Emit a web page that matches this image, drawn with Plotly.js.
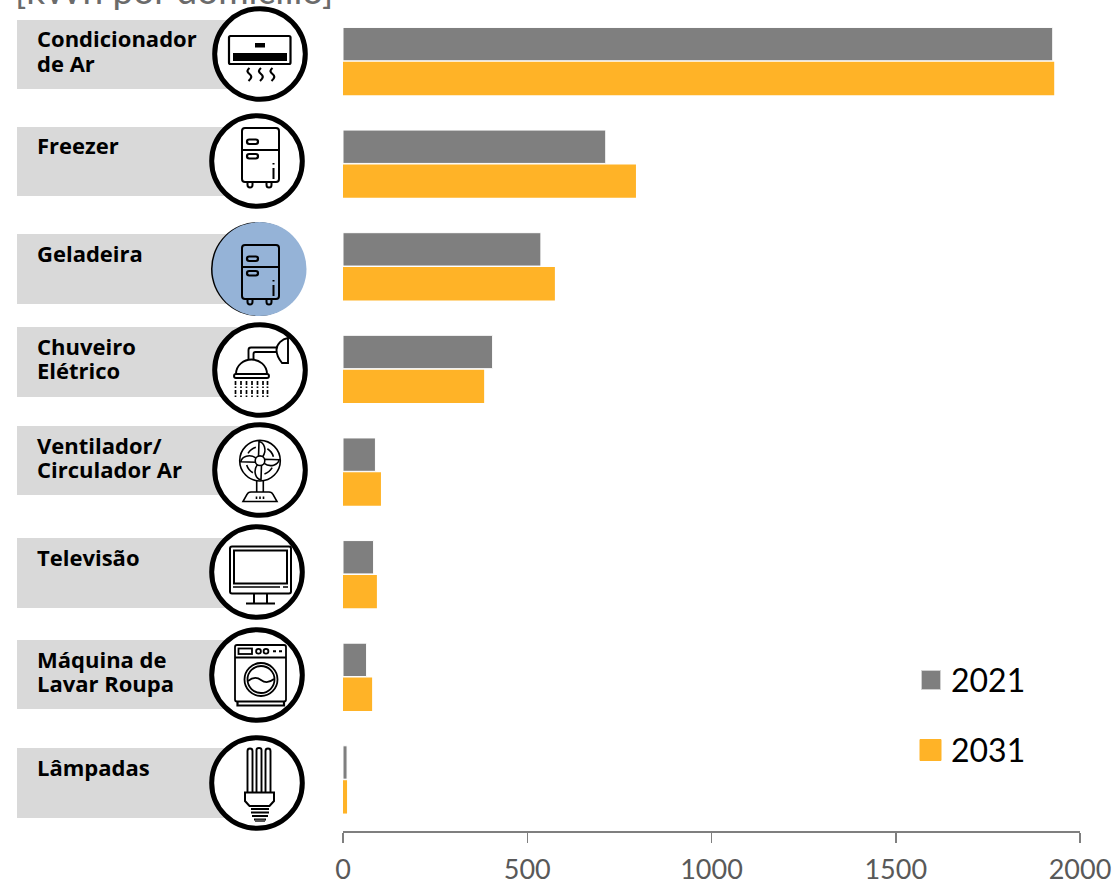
<!DOCTYPE html>
<html>
<head>
<meta charset="utf-8">
<script src="https://cdn.plot.ly/plotly-3.0.1.min.js"></script>
<style>html,body{margin:0;padding:0;background:#fff;overflow:hidden}</style>
</head>
<body>
<div id="chart" style="width:1116px;height:884px"></div>
<script>
// Consumo por equipamento
const categories = ["Condicionador de Ar", "Freezer", "Geladeira", "Chuveiro Elétrico",
  "Ventilador/ Circulador Ar", "Televisão", "Máquina de Lavar Roupa", "Lâmpadas"];
const labelLines = [["Condicionador", "de Ar"], ["Freezer"], ["Geladeira"], ["Chuveiro", "Elétrico"],
  ["Ventilador/", "Circulador Ar"], ["Televisão"], ["Máquina de", "Lavar Roupa"], ["Lâmpadas"]];
const values2021 = [1926, 713, 537, 406, 88, 83, 64, 11];
const values2031 = [1930, 795, 575, 383, 103, 92, 79, 11];
const tickValues = [0, 500, 1000, 1500, 2000];
const seriesNames = ["2021", "2031"];
const unitTitle = "[kWh por domicílio]";

const GREY = "#7F7F7F", ORANGE = "#FFB327", BOX = "#D9D9D9", BLUE = "#95B3D7";

// Plot frame in page pixels, used to place the side panel
const L = 343, R = 1080, T = 10, B = 831;
const px = x => (x - L) / (R - L);
const py = y => (B - y) / (B - T);

// Grey label panels: top, bottom, and the vertical centre of each text line
const panels = [[20, 89, [38, 62.500]], [127, 196, [145]], [234, 304, [253]], [327, 397, [346, 370]],
  [426, 495, [445, 469]], [538, 608, [557]], [640, 709, [659, 683]], [748, 818, [767]]];
// Icon badge centres
const badges = [[260, 54], [257, 161], [259, 269], [260, 370], [260, 470], [257, 572], [257, 675], [257, 783]];

// Icon line drawings on a 96x96 canvas centred on the badge
const fridge = (dx, dy) => `<g transform="translate(${dx} ${dy})" fill="none" stroke="#000" stroke-width="2">
  <rect x="33" y="15" width="37" height="54" rx="3"/><path d="M33 37H70"/>
  <rect x="38" y="26.500" width="11" height="4.500" rx="2.200" stroke-width="2.200"/><rect x="38" y="41" width="11" height="4.500" rx="2.200" stroke-width="2.200"/>
  <path d="M64.500 55V66M64.500 50V51.500"/><path d="M38.500 69v3a2.500 2.500 0 0 0 5 0v-3M57.500 69v3a2.500 2.500 0 0 0 5 0v-3"/></g>`;

const fanBlade = `<path d="M46.500 35L47 19.500C52 20.500 55.500 28 50.500 35Z" fill="#fff"/>`;

const iconArt = [
  // ar condicionado
  `<g fill="none" stroke="#000" stroke-width="2.200"><rect x="17" y="30" width="61.500" height="28" rx="1.500"/>
   <path d="M37.500 62c-3 2.500-2.500 4 0 6s2.500 4-1 7M49 62c-3 2.500-2.500 4 0 6s2.500 4-1 7M60.500 62c-3 2.500-2.500 4 0 6s2.500 4-1 7"/></g>
   <rect x="21" y="47" width="54" height="8" fill="#000"/><rect x="43" y="37" width="10" height="4.500" fill="#000"/>`,
  fridge(0, 0),
  fridge(-2, 9),
  // chuveiro
  `<g fill="none" stroke="#000" stroke-width="1.900"><path d="M76 16V41H70C66 36 64.500 32 64.500 28C64.500 22 70 17 76 16Z"/>
   <path d="M65 25.500H39Q36.500 25.500 36.500 28V38M65 30H43.500Q41.500 30 41.500 32V38"/>
   <path d="M24 52C24 43 32 37.500 39.500 37.500C47 37.500 55 43 55 52"/><rect x="22" y="52" width="35" height="4" rx="2"/>
   <path d="M23.500 59V77M29 59V77M34.500 59V77M40 59V77M45.500 59V77M51 59V77M55.500 59V75" stroke-width="1.700" stroke-dasharray="4 1.500 1.500 2"/></g>`,
  // ventilador
  `<g fill="none" stroke="#000" stroke-width="1.600"><circle cx="48" cy="38.700" r="20.300"/>
   <circle cx="48" cy="38.700" r="14" stroke-dasharray="10 12" stroke-dashoffset="-7.300"/>
   ${[0, 90, 180, 270].map(a => `<g transform="rotate(${a} 48 38.700)">${fanBlade}</g>`).join("")}
   <circle cx="48" cy="38.700" r="4.800" fill="#fff"/>
   <path d="M44.700 59V70M51.300 59V70M31 79.500H65L61 72.500Q60 70 57 70H39Q36 70 35 72.500Z"/><path d="M44.500 74.500V77M48 74.500V77M51.500 74.500V77"/></g>`,
  // televisão
  `<g fill="none" stroke="#000" stroke-width="2"><rect x="21" y="22.500" width="61" height="47" rx="2"/>
   <rect x="25" y="26.500" width="53" height="33"/><path d="M24 63H71M74 63H79" stroke-width="1.500"/>
   <path d="M45 69.500V79M58 69.500V79M37 79.500H66"/></g>`,
  // máquina de lavar
  `<g fill="none" stroke="#000" stroke-width="1.800"><rect x="26" y="18" width="51" height="56.500" rx="2"/><path d="M26 30.500H77"/>
   <rect x="29.500" y="21.500" width="13.500" height="5.500"/><circle cx="49.500" cy="24.300" r="2.400"/><circle cx="57" cy="24.300" r="2.400"/>
   <path d="M64 24.300H67M70 24.300H73" stroke-width="2"/>
   <circle cx="52" cy="52.500" r="16.500"/><circle cx="52" cy="52.500" r="13.500"/>
   <path d="M39 54C44 50 48 50 52 53S60 56 65 52" /><path d="M28.500 74.500V78.500H75V74.500" stroke-width="2.200"/></g>`,
  // lâmpada
  `<g fill="none" stroke="#000" stroke-width="1.900"><path d="M38.500 57V16Q38.500 13.500 41 13.500Q43.500 13.500 43.500 16V57M47.500 57V15Q47.500 13 50 13Q52.500 13 52.500 15V57M56.500 57V16Q56.500 13.500 59 13.500Q61.500 13.500 61.500 16V57"/>
   <path d="M36 57.500H65V66L60.500 71H40.500L36 66Z" stroke-width="2"/>
   <path d="M42 74H60M42 77.500H60M43 81H59M45 84.500H57" stroke-width="2"/></g><rect x="46" y="84.500" width="10" height="2.500" fill="#555"/>`
];

// Badge ring plus its icon, as one inline SVG image
function badgeImage(i) {
  const ring = i === 2
    ? `<circle cx="47" cy="48" r="47" fill="#000"/><circle cx="48.500" cy="48" r="47" fill="${BLUE}"/>`
    : `<circle cx="48" cy="48" r="45.300" fill="#fff" stroke="#000" stroke-width="5"/>`;
  const svg = `<svg xmlns="http://www.w3.org/2000/svg" width="96" height="96" viewBox="0 0 96 96">${ring}${iconArt[i]}</svg>`;
  return "data:image/svg+xml;charset=utf-8," + encodeURIComponent(svg);
}

const images = badges.map(([cx, cy], i) => ({
  source: badgeImage(i), xref: "paper", yref: "paper",
  x: px(cx - 48), y: py(cy - 48), sizex: 96 / (R - L), sizey: 96 / (B - T),
  xanchor: "left", yanchor: "top", sizing: "stretch", layer: "above"
}));

const shapes = panels.map(([top, bottom]) => ({
  type: "rect", xref: "paper", yref: "paper", layer: "below",
  x0: px(17), x1: px(245), y0: py(top), y1: py(bottom),
  fillcolor: BOX, line: { width: 0 }
}));

const annotations = [];
panels.forEach(([, , centres], i) => {
  labelLines[i].forEach((line, k) => annotations.push({
    text: line, xref: "paper", yref: "paper", x: px(35), y: py(centres[k]),
    xanchor: "left", yanchor: "middle", showarrow: false,
    font: { family: "Open Sans", size: 22, color: "#000", weight: 700 }
  }));
});
annotations.push({
  text: unitTitle, xref: "paper", yref: "paper", x: px(13), y: py(14),
  xanchor: "left", yanchor: "bottom", showarrow: false,
  font: { family: "Lato", size: 37, color: "#6B6B6B" }
});

// Key drawn with larger swatches than the built-in legend offers
[[680, GREY, 921.500, 19, "#D0D0D0"], [750, ORANGE, 920, 21, ORANGE]].forEach(([cy, colour, x0, size, edge], i) => {
  shapes.push({
    type: "rect", xref: "paper", yref: "paper", layer: "above",
    x0: px(x0), x1: px(x0 + size), y0: py(cy - size / 2), y1: py(cy + size / 2),
    fillcolor: colour, line: { color: edge, width: 1 }
  });
  annotations.push({
    text: seriesNames[i], xref: "paper", yref: "paper", x: px(949), y: py(cy - 1),
    xanchor: "left", yanchor: "middle", showarrow: false,
    font: { family: "Lato", size: 32, color: "#000" }
  });
});

const traces = [
  { type: "bar", orientation: "h", name: seriesNames[0], y: categories, x: values2021,
    marker: { color: GREY, line: { color: "#FFFFFF", width: 1 } } },
  { type: "bar", orientation: "h", name: seriesNames[1], y: categories, x: values2031,
    marker: { color: ORANGE, line: { width: 0 } } }
];

const layout = {
  width: 1116, height: 884,
  margin: { l: L, r: 1116 - R, t: T, b: 884 - B, pad: 0 },
  paper_bgcolor: "#fff", plot_bgcolor: "#fff",
  barmode: "group", bargap: 0.33, bargroupgap: 0.03,
  showlegend: false,
  xaxis: {
    range: [0, 2000], tickvals: tickValues, ticks: "outside", ticklen: 10, tickwidth: 1.5,
    tickcolor: "#7F7F7F", showline: true, linecolor: "#7F7F7F", linewidth: 1.5,
    showgrid: false, zeroline: false, ticklabelstandoff: 4,
    tickfont: { family: "Lato", size: 27, color: "#595959" }
  },
  yaxis: {
    type: "category", categoryorder: "array", categoryarray: categories, autorange: "reversed",
    showticklabels: false, ticks: "", showline: false, showgrid: false, zeroline: false
  },
  shapes, annotations, images
};

Plotly.newPlot("chart", traces, layout, { displayModeBar: false, staticPlot: true });
</script>
</body>
</html>
